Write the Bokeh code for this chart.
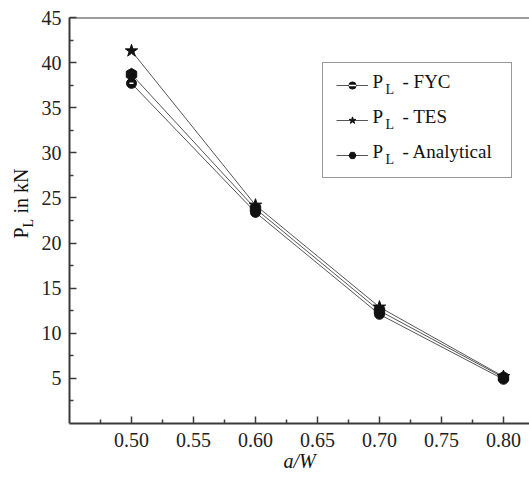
import math
from bokeh.plotting import figure
from bokeh.layouts import row
from bokeh.models import (FixedTicker, Range1d, Span, Label, Legend, LegendItem,
                          NumeralTickFormatter)
from bokeh.embed import file_html
from bokeh.resources import INLINE

# ---- data ----
a_w = [0.50, 0.60, 0.70, 0.80]
pl_fyc = [37.7, 23.4, 12.1, 4.9]
pl_tes = [41.3, 24.2, 12.9, 5.2]
pl_analytical = [38.7, 23.8, 12.5, 5.1]
x_ticks = [0.50, 0.55, 0.60, 0.65, 0.70, 0.75, 0.80]
x_minor = [0.475, 0.525, 0.575, 0.625, 0.675, 0.725, 0.775]
y_ticks = [5, 10, 15, 20, 25, 30, 35, 40, 45]
y_minor = [2.5, 7.5, 12.5, 17.5, 22.5, 27.5, 32.5, 37.5, 42.5]
legend_names = ["- FYC", "- TES", "- Analytical"]
x_title = "a/W"
y_title = ["P", "L", "in kN"]

FONT = "Times New Roman"
AX = "#3a3a3a"
TXT = "#111111"
LW = 37  # width of the strip holding the y title

# ---- strip with the rotated y-axis title ----
lf = figure(width=LW, height=479, output_backend="svg", toolbar_location=None,
            x_range=Range1d(0, 1), y_range=Range1d(0, 1), x_axis_type=None,
            y_axis_type=None, min_border=0)
lf.outline_line_color = None
lf.grid.grid_line_color = None
for txt, (x, y, size) in zip(y_title, [(31, 294, "20px"), (35, 283, "14px"),
                                       (31, 269, "20px")]):
    lf.add_layout(Label(x=x, y=479 - y, x_units="screen", y_units="screen",
                        text=txt, angle=math.pi / 2, text_font=FONT,
                        text_font_size=size, text_color=TXT))

# ---- main plot: frame left 69, right 529, top 17, bottom 423 ----
p = figure(width=529 - LW, height=479, output_backend="svg", toolbar_location=None,
           x_range=Range1d(0.45, 0.821), y_range=Range1d(0, 45),
           min_border_left=69 - LW, min_border_right=0, min_border_top=17,
           min_border_bottom=56)
p.outline_line_color = None
p.grid.grid_line_color = None

for ax, tk, mn in ((p.xaxis, x_ticks, x_minor), (p.yaxis, y_ticks, y_minor)):
    ax.ticker = FixedTicker(ticks=tk, minor_ticks=mn)
    ax.axis_line_color = AX
    ax.axis_line_width = 2
    ax.major_tick_line_color = AX
    ax.minor_tick_line_color = AX
    ax.major_tick_line_width = 1.5
    ax.minor_tick_line_width = 1.5
    ax.major_tick_in = 7
    ax.major_tick_out = 0
    ax.minor_tick_in = 4
    ax.minor_tick_out = 0
    ax.major_label_text_font = FONT
    ax.major_label_text_font_size = "20px"
    ax.major_label_text_color = "#222222"
p.xaxis.major_label_standoff = 9
p.yaxis.major_label_standoff = 8
p.xaxis.formatter = NumeralTickFormatter(format="0.00")
p.xaxis.axis_label = x_title
p.xaxis.axis_label_text_font = FONT
p.xaxis.axis_label_text_font_style = "italic"
p.xaxis.axis_label_text_font_size = "20px"
p.xaxis.axis_label_text_color = TXT
p.xaxis.axis_label_standoff = 0

p.add_layout(Span(location=45, dimension="width", line_color=AX, line_width=2))

LC = "#555555"
r1l = p.line(a_w, pl_fyc, line_color=LC, line_width=1)
r2l = p.line(a_w, pl_tes, line_color=LC, line_width=1)
r3l = p.line(a_w, pl_analytical, line_color=LC, line_width=1)
r1m = p.scatter(a_w, pl_fyc, marker="circle", size=10, fill_color="#111111", line_color="#111111")
r1d = p.scatter(a_w, pl_fyc, marker="dash", size=4, line_color="white", line_width=1.5)
r2m = p.scatter(a_w, pl_tes, marker="star", size=13, fill_color="#111111", line_color="#111111")
r3m = p.scatter(a_w, pl_analytical, marker="hex", size=12, angle=math.pi / 2,
                fill_color="#111111", line_color="#111111")


def sx(px):
    return px - 69


def sy(py):
    return 423 - py


# legend texts (drawn at glyph level, inside the frame)
for i, name in enumerate(legend_names):
    base = 91 + 35 * i
    for txt, x, y, size in (("P", 372, base, "19px"), ("L", 385, base + 5, "14px"),
                            (name, 402, base, "19px")):
        p.add_layout(Label(x=sx(x), y=sy(y), x_units="screen", y_units="screen",
                           text=txt, text_font=FONT, text_font_size=size,
                           text_color=TXT, level="glyph"))

legend = Legend(items=[LegendItem(label="\u00a0", renderers=[r1l, r1m, r1d]),
                       LegendItem(label="\u00a0", renderers=[r2l, r2m]),
                       LegendItem(label="\u00a0", renderers=[r3l, r3m])],
                location=(253, 245), margin=0, padding=13, spacing=17,
                glyph_width=32, glyph_height=18, label_height=18, label_width=125,
                label_standoff=5, label_text_font_size="8px",
                border_line_color="#333333", border_line_width=1,
                background_fill_alpha=0)
p.add_layout(legend, "center")

layout = row(lf, p, spacing=0)
open("out.html", "w").write(file_html(layout, INLINE))
